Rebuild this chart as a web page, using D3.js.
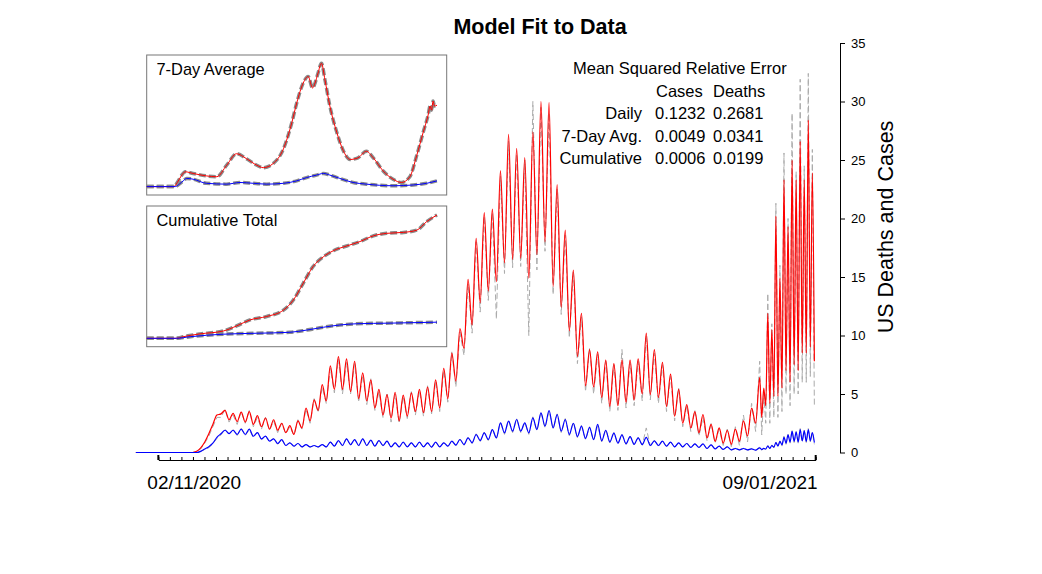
<!DOCTYPE html>
<html>
<head>
<meta charset="utf-8">
<script src="https://cdn.jsdelivr.net/npm/d3@7"></script>
<style>
  body { margin: 0; background: #fff; }
  svg text { font-family: 'Liberation Sans', Arial, Helvetica, sans-serif; fill: #000; }
</style>
</head>
<body>
<div class="chart"></div>
<script>
// daily values, in units of 10k cases and 1k deaths
// weekly highs at day 0.6 + 7k and lows half a week later (day 0 = 01/22/2020)
const casesFitHigh = [
  0, 0, 0, 0, 0, 0, 0, 0, 0.4, 1.6,
  3.2, 3.6, 3.35, 3.45, 3.5, 3.15, 2.95, 2.8, 2.5, 2.3,
  2.7, 3.8, 4.5, 5.8, 7.4, 8.2, 8.0, 7.8, 6.8, 6.2,
  5.4, 4.95, 5.15, 4.9, 5.1, 5.4, 5.6, 6.2, 7.2, 8.5,
  10.6, 14.8, 18.3, 20.5, 20.8, 24.1, 27.2, 26.0, 25.2, 27.4,
  30.0, 29.9, 22.9, 19.0, 15.6, 11.9, 8.8, 8.6, 7.9, 7.6,
  7.9, 7.9, 8.0, 10.2, 8.8, 7.7, 6.7, 5.4, 4.1, 3.5,
  3.25, 2.4, 2.1, 1.9, 2.0, 2.7, 3.8
];
const casesFitLow = [
  0, 0, 0, 0, 0, 0, 0, 0.1, 0.9, 2.4,
  3.3, 2.8, 2.65, 2.6, 2.4, 2.2, 2.0, 1.9, 1.7, 1.55,
  2.1, 2.7, 3.6, 4.4, 5.4, 5.4, 5.2, 4.6, 4.4, 3.8,
  3.2, 2.95, 2.7, 3.1, 3.5, 3.4, 3.5, 3.8, 4.6, 6.1,
  8.9, 10.9, 12.8, 13.8, 14.6, 16.2, 16.5, 16.6, 14.9, 16.9,
  18.0, 14.2, 12.4, 10.4, 8.2, 5.7, 5.6, 4.7, 3.95, 4.0,
  4.3, 4.5, 5.0, 4.95, 4.7, 3.95, 3.1, 2.5, 2.1, 1.7,
  1.25, 0.95, 0.8, 0.7, 0.95, 1.4, 2.5
];
// from day 539.6 on the swings come twice a week: turning points every 1.75 days
const casesFitLate = [
  6.4, 3.0, 5.5, 4.0, 11.9, 4.2, 10.5, 4.8, 20.2, 4.8, 14.9, 5.5, 23.3, 7.0,
  19.3, 6.0, 25.0, 7.5, 23.3, 7.0, 26.6, 8.5, 23.3, 8.5, 28.4, 9.0, 23.9, 7.8
];

const casesDataHigh = [
  0, 0, 0, 0, 0, 0, 0, 0, 0.3, 1.4,
  3.0, 3.7, 3.2, 3.5, 3.6, 3.0, 3.0, 2.7, 2.5, 2.2,
  2.8, 3.7, 4.6, 5.6, 7.2, 8.0, 7.7, 7.6, 6.6, 6.3,
  5.2, 5.0, 5.0, 4.8, 5.2, 5.3, 5.7, 6.1, 7.0, 8.6,
  10.3, 14.4, 18.0, 20.2, 20.5, 23.6, 26.6, 25.5, 25.0, 30.0,
  29.5, 29.0, 22.5, 18.6, 15.4, 11.6, 8.9, 8.4, 7.8, 7.5,
  8.8, 7.6, 7.8, 10.0, 8.5, 7.5, 6.5, 5.5, 4.0, 3.6,
  3.0, 2.5, 2.0, 2.0, 2.2, 3.2, 4.2
];
const casesDataLow = [
  0, 0, 0, 0, 0, 0, 0, 0.1, 0.8, 2.2,
  3.0, 2.6, 2.4, 2.5, 2.2, 2.0, 1.9, 1.7, 1.6, 1.5,
  2.0, 2.5, 3.4, 4.2, 5.1, 5.0, 5.0, 4.3, 4.1, 3.6,
  3.0, 2.6, 2.5, 2.9, 3.2, 3.1, 3.3, 3.5, 4.3, 5.6,
  8.3, 10.2, 12.0, 13.0, 11.4, 15.3, 15.8, 15.9, 10.0, 15.6,
  17.2, 13.5, 11.8, 9.8, 7.6, 5.2, 5.0, 4.2, 3.5, 3.6,
  3.8, 4.0, 4.4, 4.5, 4.2, 3.5, 2.7, 2.2, 1.8, 1.4,
  1.0, 0.8, 0.6, 0.5, 0.6, 0.9, 1.8
];
const casesDataLate = [
  7.8, 1.5, 5.0, 2.5, 13.6, 2.5, 11.0, 3.0, 21.3, 3.0, 16.0, 3.5, 25.6, 5.0,
  20.0, 4.0, 29.0, 5.0, 24.0, 5.0, 31.9, 6.0, 24.5, 6.0, 32.4, 6.5, 25.9, 4.0
];

const deathsFitHigh = [
  0, 0, 0, 0, 0, 0, 0, 0, 0.1, 0.5,
  1.3, 1.9, 1.9, 2.0, 2.0, 1.7, 1.4, 1.17, 1.1, 0.83,
  0.77, 0.68, 0.6, 0.68, 0.88, 1.02, 1.17, 1.1, 1.17, 1.05,
  1.02, 0.97, 0.83, 0.88, 0.83, 0.88, 0.83, 0.88, 0.83, 0.97,
  1.11, 1.25, 1.54, 1.68, 1.96, 2.53, 2.68, 2.82, 2.53, 2.96,
  3.39, 3.59, 3.25, 2.82, 2.5, 2.25, 2.15, 2.4, 1.9, 1.65,
  1.5, 1.35, 1.25, 1.3, 1.0, 0.97, 0.88, 0.83, 0.77, 0.74,
  0.74, 0.66, 0.54, 0.48, 0.34, 0.34, 0.31
];
const deathsFitLow = [
  0, 0, 0, 0, 0, 0, 0, 0, 0.3, 0.8,
  1.6, 1.62, 1.54, 1.54, 1.39, 1.17, 0.97, 0.77, 0.6, 0.54,
  0.48, 0.48, 0.48, 0.48, 0.54, 0.6, 0.68, 0.6, 0.6, 0.54,
  0.6, 0.48, 0.48, 0.48, 0.48, 0.48, 0.46, 0.48, 0.54, 0.63,
  0.68, 0.83, 1.02, 1.11, 1.25, 1.68, 1.82, 1.82, 1.68, 1.96,
  2.25, 2.11, 1.82, 1.54, 1.35, 1.2, 1.1, 1.0, 0.9, 0.8,
  0.75, 0.7, 0.68, 0.6, 0.6, 0.54, 0.48, 0.48, 0.43, 0.43,
  0.34, 0.31, 0.26, 0.23, 0.23, 0.23, 0.2
];
const deathsFitLate = [
  0.4, 0.25, 0.35, 0.3, 0.55, 0.35, 0.6, 0.45, 0.85, 0.55, 0.95, 0.65, 1.3, 0.8,
  1.5, 0.9, 1.8, 0.95, 1.75, 0.9, 1.95, 1.0, 1.85, 0.95, 1.95, 1.0, 1.7, 0.85
];

const deathsDataHigh = [
  0, 0, 0, 0, 0, 0, 0, 0, 0.1, 0.4,
  1.2, 2.0, 1.95, 2.05, 1.95, 1.75, 1.4, 1.2, 1.1, 0.85,
  0.8, 0.7, 0.62, 0.7, 0.92, 1.05, 1.2, 1.12, 1.2, 1.08,
  1.05, 1.0, 0.86, 0.9, 0.86, 0.9, 0.85, 0.9, 0.86, 1.0,
  1.15, 1.3, 1.6, 1.75, 2.0, 2.6, 2.75, 2.9, 2.55, 3.05,
  3.45, 3.55, 3.3, 2.9, 2.6, 2.3, 2.2, 2.3, 1.95, 1.7,
  1.55, 1.4, 1.3, 2.1, 1.05, 1.0, 0.9, 0.85, 0.8, 0.76,
  0.76, 0.68, 0.56, 0.5, 0.36, 0.36, 0.34
];
const deathsDataLow = [
  0, 0, 0, 0, 0, 0, 0, 0, 0.25, 0.75,
  1.5, 1.55, 1.45, 1.45, 1.3, 1.1, 0.9, 0.7, 0.55, 0.5,
  0.44, 0.44, 0.44, 0.44, 0.5, 0.55, 0.62, 0.55, 0.55, 0.5,
  0.55, 0.44, 0.44, 0.44, 0.44, 0.44, 0.42, 0.44, 0.5, 0.58,
  0.62, 0.76, 0.95, 1.02, 1.15, 1.55, 1.7, 1.7, 1.55, 1.85,
  2.1, 2.0, 1.7, 1.42, 1.25, 1.1, 1.0, 0.92, 0.82, 0.72,
  0.68, 0.64, 0.62, 0.55, 0.55, 0.5, 0.44, 0.44, 0.4, 0.4,
  0.3, 0.28, 0.24, 0.2, 0.2, 0.2, 0.18
];
const deathsDataLate = [
  0.45, 0.2, 0.35, 0.25, 0.6, 0.3, 0.65, 0.4, 0.9, 0.5, 1.0, 0.55, 1.4, 0.7,
  1.55, 0.8, 1.9, 0.85, 1.8, 0.8, 2.05, 0.9, 1.9, 0.85, 2.05, 0.9, 1.75, 0.7
];

// insets (day numbers and values)
const avgCaseDays = [0, 55, 62, 70, 78, 94, 121, 142, 162, 182, 202, 223, 236, 256, 277, 294, 304, 317, 327, 336, 341, 347, 354, 361, 371, 385, 398, 412, 428, 445, 459, 479, 499, 516, 533, 547, 560, 570, 574, 577, 580, 583, 588];
const avgCases = [0, 0, 1.0, 2.6, 3.6, 3.2, 2.6, 2.4, 5.2, 8.0, 6.8, 5.2, 4.6, 5.6, 9.2, 15.6, 20.4, 25.2, 26.8, 24.0, 25.2, 27.6, 30.0, 26.0, 19.6, 13.2, 8.8, 6.6, 7.0, 8.6, 7.0, 3.8, 1.8, 1.0, 2.4, 7.6, 13.2, 17.4, 19.6, 18.6, 20.8, 19.6, 19.8];
const avgDeathDays = [0, 58, 66, 74, 81, 94, 121, 162, 189, 216, 243, 277, 304, 324, 344, 358, 371, 391, 418, 445, 499, 540, 567, 588];
const avgDeaths = [0, 0, 0.6, 1.4, 2.0, 1.8, 0.8, 0.6, 1.0, 0.8, 0.6, 0.8, 1.4, 2.2, 2.8, 3.2, 2.8, 2.0, 1.0, 0.6, 0.2, 0.4, 0.8, 1.4];
const cumCaseDays = [0, 60, 74, 108, 155, 182, 209, 243, 277, 297, 317, 337, 358, 378, 405, 432, 459, 486, 520, 547, 567, 588];
const cumCases = [0, 0, 0.5, 1.4, 2.3, 3.9, 5.8, 6.9, 8.9, 12.1, 17.4, 22.7, 25.8, 27.7, 29.2, 30.6, 32.4, 33.2, 33.5, 34.2, 36.9, 39.0];
const cumDeathDays = [0, 60, 88, 155, 223, 290, 324, 358, 391, 425, 493, 588];
const cumDeaths = [0, 0, 0.5, 1.3, 1.6, 1.9, 2.6, 3.5, 4.2, 4.6, 4.8, 5.1];

const yTicks = [0, 5, 10, 15, 20, 25, 30, 35];
const xTickLabels = ['02/11/2020', '09/01/2021'];
const errorHeader = ['Cases', 'Deaths'];
const errorRows = ['Daily', '7-Day Avg.', 'Cumulative'];
const errorCases = ['0.1232', '0.0049', '0.0006'];
const errorDeaths = ['0.2681', '0.0341', '0.0199'];

const width = 1042,
  height = 574,
  dataColor = '#ababab',
  casesColor = '#ff0000',
  deathsColor = '#0000ff';

const startDate = new Date(Date.UTC(2020, 0, 22)),
  firstTick = new Date(Date.UTC(2020, 1, 11)),
  lastTick = new Date(Date.UTC(2021, 8, 1)),
  peakStart = 0.6,
  lateStart = 539.6;

const dayToDate = d => new Date(startDate.getTime() + d * 864e5);

function dailySeries(high, low, late) {
  const pts = [];
  high.forEach((v, k) => {
    pts.push({ day: peakStart + 7 * k, value: v });
    pts.push({ day: peakStart + 7 * k + 3.5, value: low[k] });
  });
  late.forEach((v, i) => pts.push({ day: lateStart + 1.75 * i, value: v }));
  return pts;
}

const pairs = (days, values) => days.map((d, i) => ({ day: d, value: values[i] }));

const svg = d3.select('.chart')
  .append('svg')
  .attr('width', width)
  .attr('height', height);

svg.append('rect').attr('width', width).attr('height', height).attr('fill', '#fff');

const xScale = d3.scaleUtc()
  .domain([startDate, lastTick])
  .range([135.2, 815.7]);

const yScale = d3.scaleLinear()
  .domain([0, 35])
  .range([452.5, 43]);

const mainLine = d3.line()
  .x(d => xScale(dayToDate(d.day)))
  .y(d => yScale(d.value))
  .curve(d3.curveMonotoneX);

const dataLine = d3.line()
  .x(d => xScale(dayToDate(d.day)))
  .y(d => yScale(d.value));

// measured data first, model fit on top
[[casesDataHigh, casesDataLow, casesDataLate], [deathsDataHigh, deathsDataLow, deathsDataLate]]
  .forEach(s => {
    svg.append('path')
      .attr('d', dataLine(dailySeries(...s)))
      .attr('stroke', dataColor)
      .attr('stroke-width', 1)
      .attr('stroke-dasharray', '6,3')
      .attr('fill', 'none');
  });

svg.append('path')
  .attr('d', mainLine(dailySeries(casesFitHigh, casesFitLow, casesFitLate)))
  .attr('stroke', casesColor)
  .attr('stroke-width', 1.2)
  .attr('fill', 'none');

svg.append('path')
  .attr('d', mainLine(dailySeries(deathsFitHigh, deathsFitLow, deathsFitLate)))
  .attr('stroke', deathsColor)
  .attr('stroke-width', 1.2)
  .attr('fill', 'none');

// x axis: only between the two labelled dates, ticks pointing up
const axisScale = xScale.copy()
  .domain([firstTick, lastTick])
  .range([xScale(firstTick), xScale(lastTick)]);

const minorTicks = d3.range(58).map(i => axisScale.invert(axisScale(firstTick) + i * (axisScale(lastTick) - axisScale(firstTick)) / 57));

const xAxisG = svg.append('g')
  .attr('transform', 'translate(0, 460)')
  .call(d3.axisBottom(axisScale).tickValues(minorTicks).tickSize(-3).tickSizeOuter(0).tickFormat(''));
xAxisG.select('.domain').attr('stroke', '#000');
xAxisG.selectAll('.tick line').attr('stroke', '#000');

svg.append('g')
  .attr('transform', 'translate(0, 460)')
  .selectAll('line')
  .data([firstTick, lastTick])
  .join('line')
  .attr('x1', d => axisScale(d))
  .attr('x2', d => axisScale(d))
  .attr('y1', 0)
  .attr('y2', -5)
  .attr('stroke', '#000')
  .attr('stroke-width', 2);

svg.append('text')
  .attr('x', axisScale(firstTick) - 11)
  .attr('y', 489)
  .style('font-size', '19px')
  .text(xTickLabels[0]);

svg.append('text')
  .attr('x', axisScale(lastTick) + 2)
  .attr('y', 489)
  .attr('text-anchor', 'end')
  .style('font-size', '19px')
  .text(xTickLabels[1]);

// y axis on the right
const yAxisG = svg.append('g')
  .attr('transform', 'translate(840, 0)')
  .call(d3.axisRight(yScale).tickValues(yTicks).tickSize(5).tickSizeOuter(0).tickPadding(6));
yAxisG.select('.domain').attr('stroke', '#000');
yAxisG.selectAll('.tick line').attr('stroke', '#000');
yAxisG.selectAll('text')
  .style('font', "13px 'Liberation Sans', Arial, sans-serif")
  .attr('fill', '#000');

svg.append('text')
  .attr('transform', 'translate(893, 227) rotate(-90)')
  .attr('text-anchor', 'middle')
  .style('font-size', '21.5px')
  .text('US Deaths and Cases');

svg.append('text')
  .attr('x', 540)
  .attr('y', 34)
  .attr('text-anchor', 'middle')
  .style('font-size', '21.5px')
  .style('font-weight', 'bold')
  .text('Model Fit to Data');

// error table
const table = svg.append('g').style('font-size', '16.5px');
table.append('text').attr('x', 573).attr('y', 74).text('Mean Squared Relative Error');
table.append('text').attr('x', 656).attr('y', 96.5).text(errorHeader[0]);
table.append('text').attr('x', 713).attr('y', 96.5).text(errorHeader[1]);
errorRows.forEach((r, i) => {
  const y = 119 + i * 22.5;
  table.append('text').attr('x', 642).attr('y', y).attr('text-anchor', 'end').text(r);
  table.append('text').attr('x', 655).attr('y', y).text(errorCases[i]);
  table.append('text').attr('x', 713).attr('y', y).text(errorDeaths[i]);
});

// insets
function inset(top, bottom, yMax, title, cases, deaths) {
  const g = svg.append('g');
  g.append('rect')
    .attr('x', 146.7)
    .attr('y', top)
    .attr('width', 300)
    .attr('height', bottom - top)
    .attr('fill', '#fff')
    .attr('stroke', '#777')
    .attr('stroke-width', 1);

  const ix = d3.scaleUtc().domain([startDate, lastTick]).range([146.7, 437]);
  const iy = d3.scaleLinear().domain([0, yMax[0]]).range([bottom - 8.4, yMax[1]]);
  const line = d3.line()
    .x(d => ix(dayToDate(d.day)))
    .y(d => iy(d.value))
    .curve(d3.curveMonotoneX);

  [cases, deaths].forEach(s => {
    g.append('path')
      .attr('d', line(s))
      .attr('stroke', '#8a8a8a')
      .attr('stroke-width', 3.5)
      .attr('stroke-dasharray', '7,3')
      .attr('fill', 'none');
  });
  g.append('path').attr('d', line(cases)).attr('stroke', casesColor).attr('stroke-width', 1).attr('fill', 'none');
  g.append('path').attr('d', line(deaths)).attr('stroke', deathsColor).attr('stroke-width', 1).attr('fill', 'none');

  g.append('text')
    .attr('x', 156.5)
    .attr('y', top + 19.5)
    .style('font-size', '16.4px')
    .text(title);
}

inset(55, 195, [30, 63.3], '7-Day Average', pairs(avgCaseDays, avgCases), pairs(avgDeathDays, avgDeaths));
inset(206, 346.7, [39, 215], 'Cumulative Total', pairs(cumCaseDays, cumCases), pairs(cumDeathDays, cumDeaths));
</script>
</body>
</html>
